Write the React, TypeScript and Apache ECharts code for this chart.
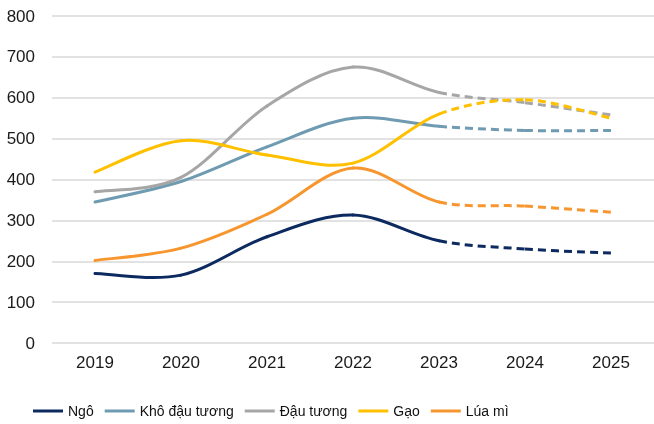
import React, { useEffect, useRef } from "react";
import * as echarts from "echarts";

const years = ["2019", "2020", "2021", "2022", "2023", "2024", "2025"];
const seriesNames = ["Ngô", "Khô đậu tương", "Đậu tương", "Gạo", "Lúa mì"];
const ngo = [170, 166, 260, 313, 250, 230, 220];
const khoDauTuong = [345, 395, 480, 550, 530, 520, 520];
const dauTuong = [370, 405, 580, 675, 613, 588, 558];
const gao = [418, 495, 460, 440, 560, 595, 550];
const luaMi = [202, 232, 315, 428, 345, 335, 320];
const colors = ["#0c2a5f", "#6e9bb1", "#a6a6a6", "#ffc000", "#f7962e"];
const actualEnd = 4; // index of 2023, last actual value

function makeRender(vals: number[], color: string) {
  return (params: any, api: any) => {
    const i = params.dataIndex;
    const n = vals.length;
    const p = (k: number) => {
      const kk = Math.max(0, Math.min(n - 1, k));
      return api.coord([kk, vals[kk]]);
    };
    const p0 = p(i - 1);
    const p1 = p(i);
    const p2 = p(i + 1);
    const p3 = p(i + 2);
    const cp1 = [p1[0] + (p2[0] - p0[0]) / 6, p1[1] + (p2[1] - p0[1]) / 6];
    const cp2 = [p2[0] - (p3[0] - p1[0]) / 6, p2[1] - (p3[1] - p1[1]) / 6];
    const dashed = i >= actualEnd;
    return {
      type: "bezierCurve",
      shape: {
        x1: p1[0],
        y1: p1[1],
        x2: p2[0],
        y2: p2[1],
        cpx1: cp1[0],
        cpy1: cp1[1],
        cpx2: cp2[0],
        cpy2: cp2[1],
      },
      style: {
        stroke: color,
        fill: "none",
        lineWidth: 3,
        lineCap: dashed ? "butt" : "round",
        lineDash: dashed ? [8, 5] : null,
      },
    };
  };
}

export default function App() {
  const ref = useRef<HTMLDivElement>(null);
  useEffect(() => {
    if (!ref.current) return;
    const chart = echarts.init(ref.current, undefined, { renderer: "svg" });
    const all = [ngo, khoDauTuong, dauTuong, gao, luaMi];
    const series: any[] = all.map((vals, i) => ({
      name: seriesNames[i],
      type: "custom",
      coordinateSystem: "cartesian2d",
      renderItem: makeRender(vals, colors[i]),
      data: vals.slice(0, vals.length - 1).map((v, j) => [j, v]),
      encode: { x: 0, y: 1 },
      itemStyle: { color: colors[i] },
      clip: false,
      z: 3,
    }));
    chart.setOption({
      animation: false,
      textStyle: { fontFamily: "Liberation Sans, Arial, sans-serif" },
      grid: { left: 52, right: -2, top: 16, bottom: 81, containLabel: false },
      xAxis: {
        type: "category",
        data: years,
        boundaryGap: true,
        axisLine: { show: false },
        axisTick: { show: false },
        axisLabel: { color: "#1a1a1a", fontSize: 17, margin: 11 },
      },
      yAxis: {
        type: "value",
        min: 0,
        max: 800,
        interval: 100,
        axisLine: { show: false },
        axisTick: { show: false },
        axisLabel: { color: "#1a1a1a", fontSize: 17, margin: 17 },
        splitLine: { lineStyle: { color: "#d9d9d9", width: 1.5 } },
      },
      legend: {
        left: 33,
        top: 404,
        padding: 0,
        itemWidth: 30,
        itemHeight: 3,
        itemGap: 11,
        icon: "rect",
        data: seriesNames,
        textStyle: { color: "#111111", fontSize: 14 },
      },
      series,
    });
    return () => chart.dispose();
  }, []);
  return (
    <div
      ref={ref}
      style={{ position: "fixed", left: 0, top: 0, width: 654, height: 424 }}
    />
  );
}
